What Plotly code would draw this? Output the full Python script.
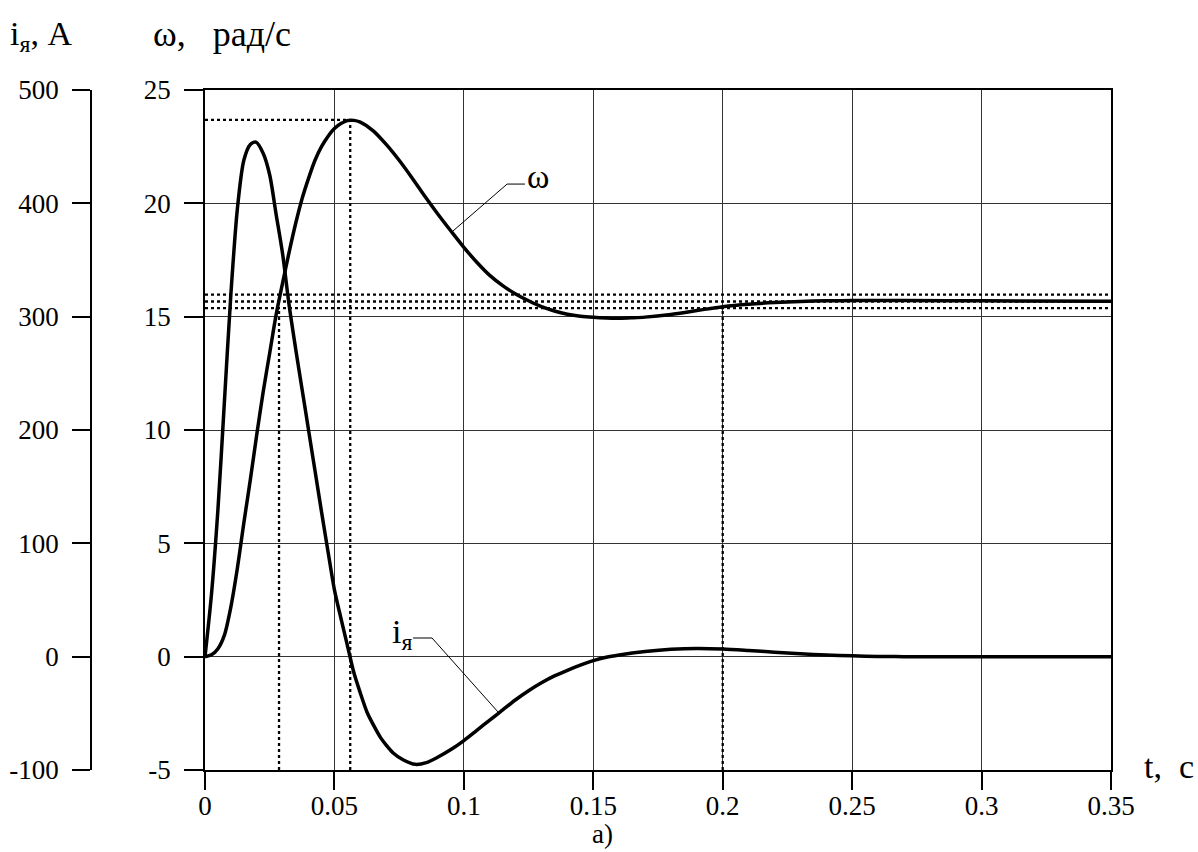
import plotly.graph_objects as go

# ---- data ----
t_i = [0, 0.0025, 0.005, 0.0075, 0.01, 0.0125, 0.015, 0.0175, 0.0197, 0.0225, 0.025, 0.0275,
       0.03, 0.0325, 0.035, 0.0375, 0.04, 0.0425, 0.045, 0.0475, 0.05, 0.0525, 0.055,
       0.0575, 0.06, 0.0626, 0.065, 0.0677, 0.07, 0.0727, 0.0765, 0.0812, 0.0855, 0.0897,
       0.095, 0.1, 0.105, 0.11, 0.115, 0.12, 0.125, 0.13, 0.135, 0.14, 0.145, 0.15, 0.155,
       0.16, 0.17, 0.18, 0.19, 0.2, 0.21, 0.22, 0.23, 0.24, 0.25, 0.26, 0.27, 0.3, 0.35]
i_a = [0, 55, 130, 225, 320, 395, 438, 452, 454, 444, 425, 390,
       355, 310, 272, 236, 200, 164, 128, 93, 59, 34, 10,
       -14, -32, -49, -60, -71, -78, -85, -91, -95, -93.5, -89,
       -82, -74, -65, -56, -47, -38, -30, -23, -17, -12, -7.5, -3.5, -0.5,
       1.5, 4.5, 6.5, 7.3, 6.8, 5.5, 4, 2.6, 1.5, 0.7, 0.2, 0, 0, 0]

t_w = [0, 0.0025, 0.005, 0.0075, 0.01, 0.0125, 0.015, 0.0175, 0.02, 0.0225, 0.025, 0.0275,
       0.03, 0.0325, 0.035, 0.0375, 0.04, 0.0425, 0.045, 0.0475, 0.05, 0.0525, 0.055, 0.0575,
       0.06, 0.065, 0.07, 0.075, 0.08, 0.085, 0.09, 0.095, 0.1, 0.105, 0.11, 0.115, 0.12, 0.125,
       0.13, 0.135, 0.14, 0.145, 0.15, 0.155, 0.16, 0.165, 0.17, 0.18, 0.19, 0.2, 0.21, 0.22,
       0.23, 0.24, 0.25, 0.27, 0.3, 0.35]
omega = [0, 0.08, 0.35, 0.95, 2.2, 3.9, 5.9, 7.8, 9.8, 11.7, 13.4, 15.1,
         16.5, 17.85, 19.1, 20.2, 21.1, 21.9, 22.5, 22.95, 23.3, 23.52, 23.65, 23.66,
         23.58, 23.2, 22.6, 21.9, 21.12, 20.3, 19.52, 18.78, 18.06, 17.4, 16.82, 16.37, 16.0, 15.7,
         15.44, 15.25, 15.11, 15.02, 14.97, 14.94, 14.93, 14.95, 14.98, 15.1, 15.27, 15.44, 15.55,
         15.62, 15.67, 15.7, 15.71, 15.71, 15.7, 15.68]

t_peak = 0.0561
omega_peak = 23.68
t_rise = 0.0286
t_settle = 0.2
omega_band = [15.97, 15.67, 15.38]

x_ticks = [0, 0.05, 0.1, 0.15, 0.2, 0.25, 0.3, 0.35]
x_labels = ["0", "0.05", "0.1", "0.15", "0.2", "0.25", "0.3", "0.35"]
w_ticks = [-5, 0, 5, 10, 15, 20, 25]
w_labels = ["-5", "0", "5", "10", "15", "20", "25"]
i_ticks = [-100, 0, 100, 200, 300, 400, 500]
i_labels = ["-100", "0", "100", "200", "300", "400", "500"]

FONT = "Liberation Serif, Times New Roman, serif"
W, H = 1198, 852
ML, MR, MT, MB = 60, 87, 90, 82
PW, PH = W - ML - MR, H - MT - MB


def px(xp):
    return (xp - ML) / PW


def py(yp):
    return (H - MB - yp) / PH


dotted = dict(color="black", width=2.3, dash="3px,3px")

fig = go.Figure()

# helper dotted lines
for wb in omega_band:
    fig.add_trace(go.Scatter(x=[0, 0.35], y=[wb, wb], mode="lines", line=dotted,
                             showlegend=False, hoverinfo="skip"))
fig.add_trace(go.Scatter(x=[0, t_peak], y=[omega_peak, omega_peak], mode="lines", line=dotted,
                         showlegend=False, hoverinfo="skip"))
fig.add_trace(go.Scatter(x=[t_peak, t_peak], y=[-5, omega_peak], mode="lines", line=dotted,
                         showlegend=False, hoverinfo="skip"))
fig.add_trace(go.Scatter(x=[t_rise, t_rise], y=[-5, omega_band[2]], mode="lines", line=dotted,
                         showlegend=False, hoverinfo="skip"))
fig.add_trace(go.Scatter(x=[t_settle, t_settle], y=[-5, omega_band[2]], mode="lines", line=dotted,
                         showlegend=False, hoverinfo="skip"))

# curves
fig.add_trace(go.Scatter(x=t_w, y=omega, mode="lines",
                         line=dict(color="black", width=3.5, shape="spline", smoothing=0.8),
                         showlegend=False, name="ω"))
fig.add_trace(go.Scatter(x=t_i, y=i_a, mode="lines", yaxis="y2",
                         line=dict(color="black", width=3.5, shape="spline", smoothing=0.8),
                         showlegend=False, name="iя"))

# leader lines
lead = dict(color="black", width=1)
fig.add_shape(type="line", x0=0.1167, y0=20.85, x1=0.1236, y1=20.85, line=lead, xref="x", yref="y")
fig.add_shape(type="line", x0=0.1167, y0=20.85, x1=0.0954, y1=18.74, line=lead, xref="x", yref="y")
fig.add_shape(type="line", x0=0.0804, y0=0.824, x1=0.0877, y1=0.824,
              line=dict(color="#555", width=1.5), xref="x", yref="y")
fig.add_shape(type="line", x0=0.0877, y0=0.824, x1=0.1132, y1=-2.44, line=lead, xref="x", yref="y")

anns = [
    dict(x=0.1236, y=21.2, xref="x", yref="y", text="ω", showarrow=False,
         xanchor="left", yanchor="middle", font=dict(family=FONT, size=34, color="black")),
    dict(x=0.0806, y=1.0, xref="x", yref="y", text="i<sub>я</sub>", showarrow=False,
         xanchor="right", yanchor="middle", font=dict(family=FONT, size=34, color="black")),
    dict(x=px(8), y=py(36), xref="paper", yref="paper", text="i<sub>я</sub>, A",
         showarrow=False, xanchor="left", yanchor="middle",
         font=dict(family=FONT, size=34, color="black")),
    dict(x=px(151), y=py(34), xref="paper", yref="paper", text="ω,&nbsp;&nbsp;&nbsp;рад/с",
         showarrow=False, xanchor="left", yanchor="middle",
         font=dict(family=FONT, size=36, color="black")),
    dict(x=px(1142), y=py(766), xref="paper", yref="paper", text="t,&nbsp;&nbsp;c",
         showarrow=False, xanchor="left", yanchor="middle",
         font=dict(family=FONT, size=34, color="black")),
    dict(x=px(602), y=py(851), xref="paper", yref="paper", text="a)",
         showarrow=False, xanchor="center", yanchor="bottom",
         font=dict(family=FONT, size=27, color="black")),
]

axis_common = dict(zeroline=False, showline=True, linecolor="black", linewidth=1.5,
                   ticks="outside", tickcolor="black", tickwidth=1.5, automargin=False,
                   tickfont=dict(family=FONT, size=27, color="black"))

fig.update_layout(
    template="none",
    width=W, height=H,
    margin=dict(l=ML, r=MR, t=MT, b=MB, autoexpand=False),
    paper_bgcolor="white", plot_bgcolor="white",
    font=dict(family=FONT, size=27, color="black"),
    showlegend=False,
    xaxis=dict(range=[0, 0.35], domain=[px(205), 1], tickmode="array", tickvals=x_ticks,
               ticktext=x_labels, showgrid=True, gridcolor="#333", gridwidth=1, mirror=True,
               ticklen=18, ticklabelstandoff=-7, **axis_common),
    yaxis=dict(range=[-5, 25], tickmode="array", tickvals=w_ticks, ticktext=w_labels,
               showgrid=True, gridcolor="#333", gridwidth=1, mirror=True, ticklen=19,
               ticklabelstandoff=8, **axis_common),
    yaxis2=dict(range=[-100, 500], tickmode="array", tickvals=i_ticks, ticktext=i_labels,
                overlaying="y", side="left", anchor="free", position=px(91), showgrid=False,
                ticklen=18, ticklabelstandoff=8, **axis_common),
    annotations=anns,
)

fig.write_html("out.html")
